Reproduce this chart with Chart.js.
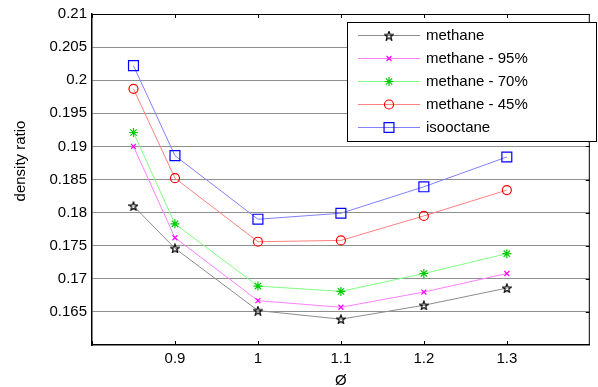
<!DOCTYPE html>
<html>
<head>
<meta charset="utf-8">
<script src="https://cdn.jsdelivr.net/npm/chart.js@4"></script>
<style>
  html, body { margin: 0; padding: 0; background: #fff; }
  #wrap { width: 598px; height: 387px; }
</style>
</head>
<body>
<div id="wrap"><canvas id="chart" width="598" height="387"></canvas></div>
<script>
// equivalence ratio values
const phi = [0.85, 0.9, 1, 1.1, 1.2, 1.3];

const methane    = [0.1810, 0.1746, 0.1652, 0.1639, 0.1660, 0.1686];
const methane95  = [0.1900, 0.1762, 0.1667, 0.1657, 0.1680, 0.1708];
const methane70  = [0.1921, 0.1783, 0.1689, 0.1681, 0.1708, 0.1738];
const methane45  = [0.1987, 0.1852, 0.1756, 0.1758, 0.1795, 0.1834];
const isooctane  = [0.2022, 0.1886, 0.1790, 0.1799, 0.1839, 0.1884];

const seriesNames = ['methane', 'methane - 95%', 'methane - 70%', 'methane - 45%', 'isooctane'];

const xTicks = [0.9, 1, 1.1, 1.2, 1.3];
const yTicks = [0.165, 0.17, 0.175, 0.18, 0.185, 0.19, 0.195, 0.2, 0.205, 0.21];

const FONT = '"Liberation Sans", Arial, sans-serif';

// pentagram marker for the methane series
function makePentagram(size, color) {
    const c = document.createElement('canvas');
    c.width = size; c.height = size;
    const g = c.getContext('2d');
    const cx = size / 2, cy = size / 2 + 0.5, ro = size / 2 - 0.5, ri = ro * 0.42;
    g.beginPath();
    for (let i = 0; i < 10; i++) {
        const r = i % 2 === 0 ? ro : ri;
        const a = -Math.PI / 2 + i * Math.PI / 5;
        const px = cx + r * Math.cos(a), py = cy + r * Math.sin(a);
        if (i === 0) g.moveTo(px, py); else g.lineTo(px, py);
    }
    g.closePath();
    g.strokeStyle = color;
    g.lineWidth = 1.2;
    g.stroke();
    return c;
}
const pentagram = makePentagram(10, '#000');

function toPoints(ys) {
    return phi.map((x, i) => ({ x: x, y: ys[i] }));
}

const styles = [
    { line: '#8c8c8c', mark: '#000000', point: pentagram, r: 5 },
    { line: '#ff80ff', mark: '#ff00ff', point: 'crossRot', r: 3.5 },
    { line: '#80ff80', mark: '#00cc00', point: 'star', r: 4.5 },
    { line: '#ff8080', mark: '#ff0000', point: 'circle', r: 4.5 },
    { line: '#8080ff', mark: '#0000ff', point: 'rect', r: 7 }
];
const allData = [methane, methane95, methane70, methane45, isooctane];

const datasets = allData.map((ys, i) => ({
    label: seriesNames[i],
    data: toPoints(ys),
    borderColor: styles[i].line,
    borderWidth: 1,
    pointStyle: styles[i].point,
    pointRadius: styles[i].r,
    pointBorderColor: styles[i].mark,
    pointBackgroundColor: 'rgba(0,0,0,0)',
    pointBorderWidth: 1.2,
    tension: 0
}));

// box, inner ticks, axis titles and legend
const extras = {
    id: 'extras',
    afterDraw(chart) {
        const ctx = chart.ctx;
        const a = chart.chartArea;
        const xs = chart.scales.x, ys = chart.scales.y;
        ctx.save();
        ctx.strokeStyle = '#000';
        ctx.lineWidth = 1;
        ctx.beginPath();
        ctx.moveTo(a.left, a.top + 0.5); ctx.lineTo(a.right, a.top + 0.5);
        ctx.moveTo(a.right - 0.5, a.top); ctx.lineTo(a.right - 0.5, a.bottom);
        ctx.stroke();
        // small inward ticks
        ctx.beginPath();
        [0.8, 0.9, 1, 1.1, 1.2, 1.3].forEach(v => {
            const px = Math.round(xs.getPixelForValue(v)) + 0.5;
            ctx.moveTo(px, a.bottom); ctx.lineTo(px, a.bottom - 4);
            ctx.moveTo(px, a.top); ctx.lineTo(px, a.top + 4);
        });
        yTicks.forEach(v => {
            const py = Math.round(ys.getPixelForValue(v)) + 0.5;
            ctx.moveTo(a.right, py); ctx.lineTo(a.right - 4, py);
        });
        ctx.stroke();

        // axis titles
        ctx.fillStyle = '#000';
        ctx.font = '15px ' + FONT;
        ctx.textAlign = 'center';
        ctx.textBaseline = 'middle';
        ctx.fillText('\u00D8', xs.getPixelForValue(1.1), 381);
        ctx.save();
        ctx.translate(21, 161);
        ctx.rotate(-Math.PI / 2);
        ctx.fillText('density ratio', 0, 0);
        ctx.restore();

        // legend
        const lx = 347, ly = 22, lw = 249, lh = 119;
        ctx.fillStyle = '#fff';
        ctx.fillRect(lx, ly, lw, lh);
        ctx.strokeStyle = '#000';
        ctx.lineWidth = 1;
        ctx.strokeRect(lx + 0.5, ly + 0.5, lw, lh);
        ctx.font = '15px ' + FONT;
        ctx.textAlign = 'left';
        chart.data.datasets.forEach((ds, i) => {
            const y = ly + 13 + i * 23;
            ctx.strokeStyle = ds.borderColor;
            ctx.lineWidth = 1;
            ctx.beginPath();
            ctx.moveTo(358, y + 0.5); ctx.lineTo(420, y + 0.5);
            ctx.stroke();
            ctx.strokeStyle = ds.pointBorderColor;
            ctx.lineWidth = ds.pointBorderWidth;
            ctx.fillStyle = 'rgba(0,0,0,0)';
            if (typeof ds.pointStyle !== 'string') {
                ctx.drawImage(ds.pointStyle, 389 - 5, y - 4.5);
            } else {
                Chart.helpers.drawPoint(ctx, { pointStyle: ds.pointStyle, radius: ds.pointRadius, borderWidth: ds.pointBorderWidth, rotation: 0 }, 389, y + 0.5);
            }
            ctx.fillStyle = '#000';
            ctx.fillText(ds.label, 426, y + 1);
        });
        ctx.restore();
    }
};

new Chart(document.getElementById('chart').getContext('2d'), {
    type: 'line',
    data: { datasets: datasets },
    options: {
        responsive: false,
        animation: false,
        layout: { padding: { left: 0, right: 1, top: 12, bottom: 0 } },
        plugins: {
            legend: { display: false },
            tooltip: { enabled: false }
        },
        scales: {
            x: {
                type: 'linear',
                min: 0.8,
                max: 1.4,
                afterFit: s => { s.height = 42; },
                afterBuildTicks: s => { s.ticks = xTicks.map(v => ({ value: v })); },
                ticks: {
                    color: '#000',
                    padding: 5,
                    maxRotation: 0,
                    font: { family: FONT, size: 15 },
                    callback: v => String(+v.toFixed(2))
                },
                grid: { display: false, drawTicks: false },
                border: { color: '#000', width: 1.5 }
            },
            y: {
                type: 'linear',
                min: 0.16,
                max: 0.21,
                afterFit: s => { s.width = 92; },
                afterBuildTicks: s => { s.ticks = yTicks.map(v => ({ value: v })); },
                ticks: {
                    color: '#000',
                    padding: 5,
                    font: { family: FONT, size: 15 },
                    callback: v => String(+v.toFixed(3))
                },
                grid: { color: '#8f8f8f', lineWidth: 1, drawTicks: false },
                border: { color: '#000', width: 1.5 }
            }
        }
    },
    plugins: [extras]
});
</script>
</body>
</html>
